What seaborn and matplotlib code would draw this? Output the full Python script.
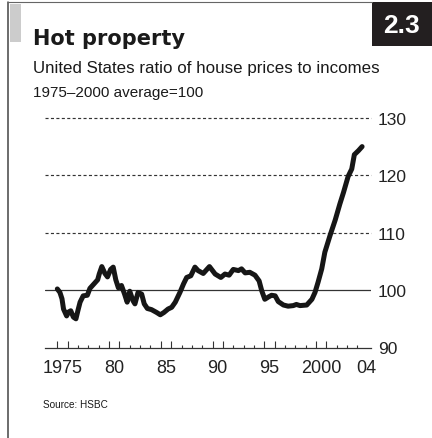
import matplotlib
matplotlib.use('Agg')
import matplotlib.pyplot as plt
import seaborn as sns
from matplotlib.patches import Rectangle
from matplotlib.lines import Line2D

# US ratio of house prices to incomes, 1975-2000 average = 100
years = [1975.0, 1975.25, 1975.45, 1975.6, 1975.9, 1976.1, 1976.3, 1976.55, 1976.8, 1977.0,
         1977.2, 1977.5, 1977.9, 1978.15, 1978.6, 1978.9, 1979.05, 1979.3, 1979.6, 1979.85,
         1980.15, 1980.4, 1980.65, 1980.9, 1981.2, 1981.5, 1981.75, 1982.0, 1982.3, 1982.5,
         1982.8, 1983.15, 1983.4, 1983.7, 1984.1, 1984.6, 1984.95, 1985.3, 1985.7, 1986.05,
         1986.4, 1986.85, 1987.2, 1987.5, 1987.9, 1988.3, 1988.6, 1989.1, 1989.7, 1990.25,
         1990.8, 1991.2, 1991.6, 1992.0, 1992.5, 1992.8, 1993.15, 1993.6, 1994.1, 1994.5,
         1994.75, 1995.05, 1995.4, 1995.7, 1996.05, 1996.35, 1996.85, 1997.3, 1997.8, 1998.1,
         1998.45, 1999.1, 1999.6, 1999.9, 2000.2, 2000.55, 2000.85, 2001.35, 2001.85, 2002.3,
         2002.65, 2003.1, 2003.45, 2003.7, 2004.1, 2004.45]
ratio = [100.2, 99.6, 98.5, 96.7, 95.5, 96.2, 96.4, 95.3, 95.0, 96.5,
         97.9, 99.0, 99.1, 100.3, 101.2, 101.8, 102.8, 104.1, 102.9, 102.3,
         103.6, 104.0, 101.8, 100.4, 100.8, 99.3, 97.9, 99.8, 98.2, 97.6,
         99.6, 99.3, 97.6, 96.8, 96.6, 96.1, 95.7, 96.1, 96.7, 97.0,
         97.9, 99.6, 101.1, 102.2, 102.5, 104.0, 103.4, 102.9, 104.1, 102.8,
         102.2, 102.8, 102.6, 103.6, 103.4, 103.7, 103.0, 103.1, 102.6, 101.6,
         99.9, 98.4, 98.8, 99.1, 99.0, 98.0, 97.4, 97.2, 97.3, 97.5,
         97.3, 97.4, 98.4, 99.6, 101.4, 103.7, 106.6, 109.5, 112.2, 115.0,
         117.0, 119.8, 121.1, 123.6, 124.3, 125.0]

grid_levels = [110, 120, 130]
ytick_vals = [90, 100, 110, 120, 130]
label_pos = [1975.5, 1980.5, 1985.5, 1990.5, 1995.5, 2000.5, 2004.85]
label_text = ['1975', '80', '85', '90', '95', '2000', '04']
big_ticks = [1975, 1976, 1980, 1981, 1985, 1986, 1990, 1991, 1995, 1996, 2000, 2001]
small_ticks = list(range(1975, 2005))

sns.set_style('white')
plt.rcParams['font.family'] = ['Liberation Sans', 'DejaVu Sans']
narrow = ['Liberation Sans Narrow', 'Liberation Sans']
ink = '#333333'

fig = plt.figure(figsize=(4.32, 4.39), dpi=100)
W, H = 432, 439
ax = fig.add_axes([45 / W, 1 - 348.5 / H, (371 - 45) / W, (348.5 - 118.9) / H])

for lvl in grid_levels:
    ax.axhline(lvl, ls=(0, (2.6, 2.0)), lw=0.85, color=ink, clip_on=False, zorder=1)
ax.axhline(100, color=ink, lw=0.9, zorder=1)

sns.lineplot(x=years, y=ratio, ax=ax, estimator=None, color='#161616', lw=3.6,
             solid_capstyle='round', solid_joinstyle='round', zorder=3)

ax.set_xlim(1973.81, 2005.31)
ax.set_ylim(90, 130)
ax.set_xlabel('')
ax.set_ylabel('')

ax.yaxis.tick_right()
ax.set_yticks(ytick_vals)
ax.tick_params(axis='y', length=0, pad=5, labelsize=12.5, labelcolor='#222222',
               labelfontfamily=narrow)

ax.set_xticks(big_ticks, labels=[])
ax.set_xticks(small_ticks, minor=True)
ax.tick_params(axis='x', which='both', bottom=True, top=False)
ax.tick_params(axis='x', which='major', direction='in', length=5.4, width=0.8, color=ink)
ax.tick_params(axis='x', which='minor', direction='in', length=2.5, width=0.8, color=ink)

sec = ax.secondary_xaxis('bottom')
sec.set_xticks(label_pos, labels=label_text)
sec.tick_params(length=0, pad=8, labelsize=13, labelcolor='#222222', labelfontfamily=narrow)
sec.spines['bottom'].set_visible(False)

for side in ['top', 'right', 'left']:
    ax.spines[side].set_visible(False)
ax.spines['bottom'].set_color(ink)
ax.spines['bottom'].set_linewidth(0.9)

# frame, tab and chart number
fig.add_artist(Line2D([8 / W, 8 / W], [0, 1 - 3 / H], transform=fig.transFigure, color='#444444', lw=1.1))
fig.add_artist(Line2D([8 / W, 372 / W], [1 - 3 / H, 1 - 3 / H], transform=fig.transFigure, color='#666666', lw=0.8))
fig.add_artist(Rectangle((9.5 / W, 1 - 43 / H), 11 / W, 38 / H, transform=fig.transFigure,
                         color='#cccccc', lw=0))
fig.add_artist(Rectangle((372 / W, 1 - 47 / H), 60 / W, 44 / H, transform=fig.transFigure,
                         color='#231f20', lw=0))
fig.text(402 / W, 1 - 33 / H, '2.3', color='white', fontsize=19, fontweight='bold',
         ha='center', va='baseline')

fig.text(33 / W, 1 - 45 / H, 'Hot property', fontsize=15, fontweight='bold',
         family=['DejaVu Sans'], color='#1a1a1a', va='baseline')
fig.text(33 / W, 1 - 72.7 / H, 'United States ratio of house prices to incomes',
         fontsize=12.2, color='#1a1a1a', va='baseline')
fig.text(33 / W, 1 - 97.3 / H, '1975\u20132000 average=100', fontsize=11,
         color='#1a1a1a', va='baseline')
fig.text(43 / W, 1 - 408 / H, 'Source: HSBC', fontsize=7.2, color='#1a1a1a', va='baseline')

fig.savefig('out.png', dpi=100)
